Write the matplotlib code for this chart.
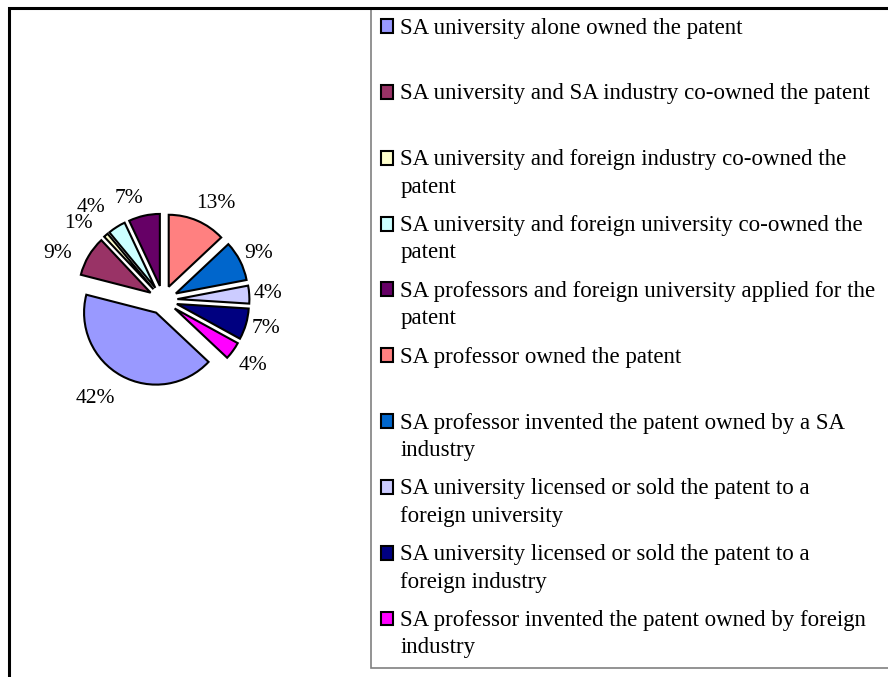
import numpy as np
import matplotlib
matplotlib.use("Agg")
import matplotlib.pyplot as plt
from matplotlib.patches import Rectangle, Wedge
from matplotlib.legend_handler import HandlerPatch

# legend order (as listed in the key)
categories = [
    "SA university alone owned the patent\n",
    "SA university and SA industry co-owned the patent\n",
    "SA university and foreign industry co-owned the\npatent",
    "SA university and foreign university co-owned the\npatent",
    "SA professors and foreign university applied for the\npatent",
    "SA professor owned the patent\n",
    "SA professor invented the patent owned by a SA\nindustry",
    "SA university licensed or sold the patent to a\nforeign university",
    "SA university licensed or sold the patent to a\nforeign industry",
    "SA professor invented the patent owned by foreign\nindustry",
]
shares = [42, 9, 1, 4, 7, 13, 9, 4, 7, 4]
colors = ["#9999FF", "#993366", "#FFFFCC", "#CCFFFF", "#660066",
          "#FF8080", "#0066CC", "#CCCCFF", "#000080", "#FF00FF"]

# where each % label sits (radius units past the exploded wedge, degrees turned)
label_dist = [1.47, 1.40, 1.38, 1.43, 1.29, 1.33, 1.28, 1.26, 1.29, 1.34]
label_turn = [-6.5, 7.7, 7.5, 6, 7, -6, -1, 0, 1, 0]
EXPLODE = 0.2

plt.rcParams["font.family"] = ["Liberation Serif", "DejaVu Serif"]
FS = 16.5

fig = plt.figure(figsize=(8.88, 6.77), dpi=100)

# outer chart border (cut off on the right and bottom)
fig.patches.append(Rectangle((9 / 888, -0.1), 1.2, 1.1 - 8 / 677,
                             transform=fig.transFigure, fill=False,
                             edgecolor="black", linewidth=2.2, zorder=10))

ax = fig.add_axes([13 / 888, (677 - 450) / 677, 300 / 888, 300 / 677])
lim = 150 / 72

# SA professor owned the patent starts at 12 o'clock, going clockwise
start = 90 + 360 * sum(shares[:5]) / sum(shares)
wedges, texts = ax.pie(
    shares,
    colors=colors,
    labels=[f"{v}%" for v in shares],
    explode=[EXPLODE] * len(shares),
    startangle=start,
    counterclock=False,
    labeldistance=1.3,
    radius=1,
    wedgeprops=dict(edgecolor="black", linewidth=1.5),
    textprops=dict(fontsize=15.5, ha="center", va="center"),
)
for w, t, d, turn in zip(wedges, texts, label_dist, label_turn):
    mid = np.deg2rad((w.theta1 + w.theta2) / 2)
    ang = mid + np.deg2rad(turn)
    t.set_position((EXPLODE * np.cos(mid) + d * np.cos(ang),
                    EXPLODE * np.sin(mid) + d * np.sin(ang)))
ax.set_xlim(-lim, lim)
ax.set_ylim(-lim, lim)
ax.set_aspect("equal")
ax.axis("off")


def square_marker(legend, orig_handle, xdescent, ydescent, width, height, fontsize):
    # put the swatch next to the first line of the label
    return Rectangle((-xdescent, -ydescent + 0.68 * fontsize), width, height)


leg = fig.legend(
    wedges, categories,
    loc="upper left",
    bbox_to_anchor=(371 / 888, 0, 1.0, 1 - 8 / 677),
    mode="expand",
    fontsize=FS,
    frameon=True,
    fancybox=False,
    edgecolor="#808080",
    framealpha=1,
    borderaxespad=0,
    borderpad=0.42,
    handlelength=0.56,
    handleheight=0.56,
    handletextpad=0.3,
    labelspacing=0.76,
    handler_map={Wedge: HandlerPatch(patch_func=square_marker)},
)
leg.get_frame().set_linewidth(1.2)
for t in leg.get_texts():
    t.set_linespacing(1.40)

fig.savefig("out.png", dpi=100)
